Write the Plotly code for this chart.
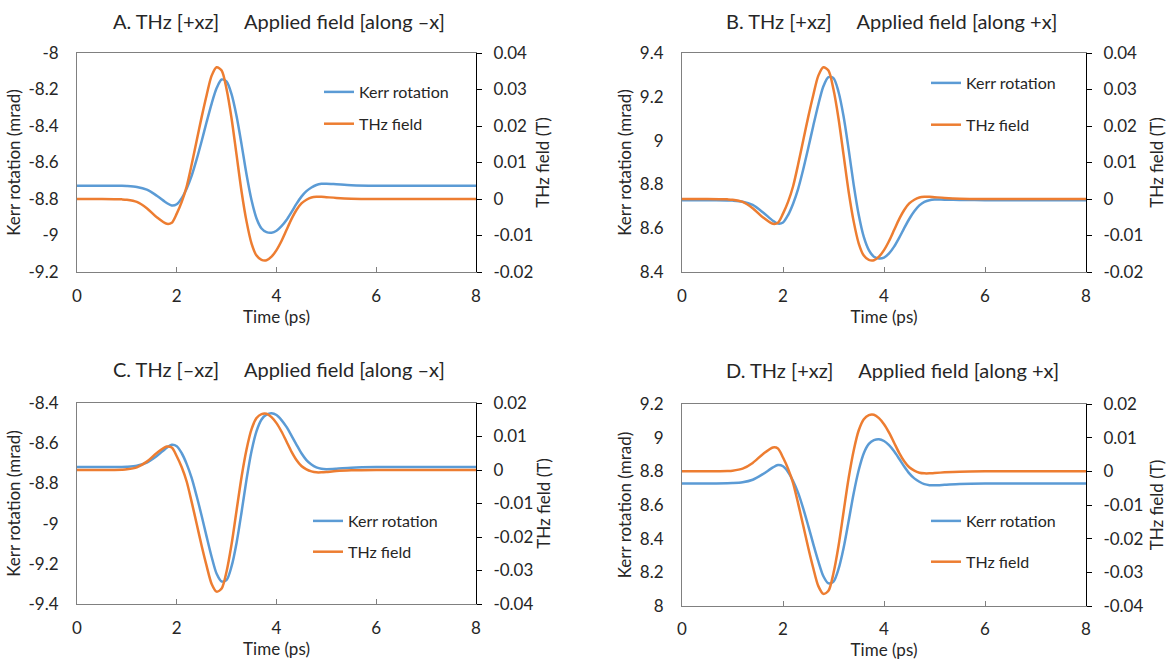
import plotly.graph_objects as go

# ---------------- data ----------------
time_ps = [0, 0.5, 0.9, 1.0, 1.2, 1.4, 1.6, 1.8, 1.9, 2.0, 2.1, 2.2, 2.3, 2.4, 2.5,
           2.6, 2.7, 2.8, 2.9, 3.0, 3.1, 3.2, 3.3, 3.4, 3.5, 3.6, 3.7, 3.8, 3.9, 4.0,
           4.1, 4.2, 4.3, 4.4, 4.5, 4.6, 4.7, 4.8, 4.9, 5.0, 5.2, 5.5, 6.0, 7.0, 8.0]

kerr_A = [-8.727, -8.727, -8.728, -8.729, -8.734, -8.749, -8.782, -8.822, -8.836, -8.829,
          -8.795, -8.742, -8.672, -8.582, -8.482, -8.377, -8.277, -8.192, -8.145, -8.157,
          -8.227, -8.347, -8.502, -8.667, -8.807, -8.907, -8.962, -8.982, -8.985, -8.974,
          -8.949, -8.915, -8.872, -8.827, -8.787, -8.757, -8.737, -8.723, -8.717, -8.716,
          -8.719, -8.724, -8.727, -8.727, -8.727]
thz_A = [0, 0, -0.0001, -0.0002, -0.0008, -0.0025, -0.0050, -0.0068, -0.0065, -0.0040,
         -0.0008, 0.0035, 0.0095, 0.0160, 0.0225, 0.0285, 0.0338, 0.0361, 0.0352, 0.0300,
         0.0220, 0.0120, 0.0020, -0.0062, -0.0122, -0.0155, -0.0167, -0.0168, -0.0158, -0.0140,
         -0.0115, -0.0085, -0.0055, -0.0030, -0.0012, -0.0002, 0.0004, 0.0006, 0.0006, 0.0005,
         0.0003, 0.0001, 0, 0, 0]

kerr_B = [8.728, 8.728, 8.727, 8.726, 8.721, 8.706, 8.673, 8.634, 8.621, 8.626,
          8.660, 8.712, 8.780, 8.868, 8.966, 9.068, 9.165, 9.248, 9.290, 9.285,
          9.222, 9.110, 8.960, 8.798, 8.660, 8.560, 8.500, 8.470, 8.462, 8.466,
          8.485, 8.516, 8.556, 8.600, 8.642, 8.677, 8.704, 8.720, 8.728, 8.731,
          8.730, 8.729, 8.728, 8.728, 8.728]
thz_B = [0, 0, -0.0001, -0.0002, -0.0008, -0.0025, -0.0050, -0.0068, -0.0065, -0.0040,
         -0.0008, 0.0035, 0.0095, 0.0160, 0.0225, 0.0285, 0.0338, 0.0361, 0.0352, 0.0300,
         0.0220, 0.0120, 0.0020, -0.0062, -0.0122, -0.0155, -0.0167, -0.0168, -0.0158, -0.0140,
         -0.0115, -0.0085, -0.0055, -0.0030, -0.0012, -0.0002, 0.0004, 0.0006, 0.0006, 0.0005,
         0.0003, 0.0001, 0, 0, 0]

kerr_C = [-8.719, -8.719, -8.718, -8.717, -8.712, -8.697, -8.664, -8.622, -8.608, -8.615,
          -8.650, -8.704, -8.774, -8.864, -8.962, -9.066, -9.166, -9.250, -9.288, -9.280,
          -9.212, -9.095, -8.942, -8.779, -8.639, -8.540, -8.482, -8.458, -8.451, -8.460,
          -8.485, -8.519, -8.562, -8.607, -8.650, -8.684, -8.706, -8.720, -8.727, -8.729,
          -8.727, -8.722, -8.719, -8.719, -8.719]
thz_C = [0, 0, 0.0001, 0.0002, 0.0008, 0.0025, 0.0051, 0.0070, 0.0067, 0.0041,
         0.0008, -0.0035, -0.0096, -0.0161, -0.0227, -0.0287, -0.0340, -0.0363, -0.0354, -0.0302,
         -0.0221, -0.0120, -0.0020, 0.0062, 0.0122, 0.0155, 0.0167, 0.0168, 0.0158, 0.0140,
         0.0115, 0.0085, 0.0055, 0.0030, 0.0012, 0.0002, -0.0004, -0.0007, -0.0007, -0.0006,
         -0.0003, -0.0001, 0, 0, 0]

kerr_D = [8.728, 8.728, 8.729, 8.730, 8.735, 8.750, 8.783, 8.823, 8.837, 8.830,
          8.796, 8.743, 8.672, 8.580, 8.476, 8.368, 8.265, 8.177, 8.135, 8.145,
          8.220, 8.345, 8.505, 8.670, 8.808, 8.908, 8.963, 8.985, 8.991, 8.980,
          8.955, 8.919, 8.875, 8.829, 8.788, 8.758, 8.738, 8.724, 8.718, 8.717,
          8.720, 8.725, 8.728, 8.728, 8.728]
thz_D = [0, 0, 0.0001, 0.0002, 0.0008, 0.0025, 0.0051, 0.0071, 0.0068, 0.0041,
         0.0008, -0.0035, -0.0096, -0.0161, -0.0227, -0.0288, -0.0341, -0.0364, -0.0355, -0.0302,
         -0.0221, -0.0120, -0.0020, 0.0062, 0.0122, 0.0155, 0.0167, 0.0168, 0.0158, 0.0140,
         0.0115, 0.0085, 0.0055, 0.0030, 0.0012, 0.0002, -0.0004, -0.0006, -0.0006, -0.0005,
         -0.0003, -0.0001, 0, 0, 0]

GAP = "\u00a0" * 5
panel_titles = [
    "A. THz [+xz]" + GAP + "Applied field [along \u2013x]",
    "B. THz [+xz]" + GAP + "Applied field [along +x]",
    "C. THz [\u2013xz]" + GAP + "Applied field [along \u2013x]",
    "D. THz [+xz]" + GAP + "Applied field [along +x]",
]

x_ticks = [0, 2, 4, 6, 8]
left_ticks_A = [-9.2, -9.0, -8.8, -8.6, -8.4, -8.2, -8.0]
left_text_A = ["-9.2", "-9", "-8.8", "-8.6", "-8.4", "-8.2", "-8"]
left_ticks_B = [8.4, 8.6, 8.8, 9.0, 9.2, 9.4]
left_text_B = ["8.4", "8.6", "8.8", "9", "9.2", "9.4"]
left_ticks_C = [-9.4, -9.2, -9.0, -8.8, -8.6, -8.4]
left_text_C = ["-9.4", "-9.2", "-9", "-8.8", "-8.6", "-8.4"]
left_ticks_D = [8.0, 8.2, 8.4, 8.6, 8.8, 9.0, 9.2]
left_text_D = ["8", "8.2", "8.4", "8.6", "8.8", "9", "9.2"]
right_ticks_top = [-0.02, -0.01, 0, 0.01, 0.02, 0.03, 0.04]
right_text_top = ["-0.02", "-0.01", "0", "0.01", "0.02", "0.03", "0.04"]
right_ticks_bot = [-0.04, -0.03, -0.02, -0.01, 0, 0.01, 0.02]
right_text_bot = ["-0.04", "-0.03", "-0.02", "-0.01", "0", "0.01", "0.02"]

# ---------------- styling ----------------
W, H = 1167, 661
BLUE = "#5B9BD5"
ORANGE = "#ED7D31"
TXT = "#262626"
FONT = "Lato"

def px_x(a, b):
    return [a / W, b / W]

def px_y(top, bottom):
    return [1 - bottom / H, 1 - top / H]

panels = [
    dict(kerr=kerr_A, thz=thz_A, xd=px_x(77, 476), yd=px_y(53, 272),
         yl=[-9.2, -8.0], lt=left_ticks_A, ltt=left_text_A,
         yr=[-0.02, 0.04], rt=right_ticks_top, rtt=right_text_top,
         leg=(319, 75, 8), title=(279, 21), rstand=4, xstand=2, xlab=9),
    dict(kerr=kerr_B, thz=thz_B, xd=px_x(682, 1086), yd=px_y(53, 272),
         yl=[8.4, 9.4], lt=left_ticks_B, ltt=left_text_B,
         yr=[-0.02, 0.04], rt=right_ticks_top, rtt=right_text_top,
         leg=(926, 66, 18), title=(891, 21), rstand=10, xstand=2, xlab=9),
    dict(kerr=kerr_C, thz=thz_C, xd=px_x(77, 476), yd=px_y(403, 604),
         yl=[-9.4, -8.4], lt=left_ticks_C, ltt=left_text_C,
         yr=[-0.04, 0.02], rt=right_ticks_bot, rtt=right_text_bot,
         leg=(308, 504, 7), title=(279, 369), rstand=4, xstand=4, xlab=9),
    dict(kerr=kerr_D, thz=thz_D, xd=px_x(682, 1086), yd=px_y(404, 606),
         yl=[8.0, 9.2], lt=left_ticks_D, ltt=left_text_D,
         yr=[-0.04, 0.02], rt=right_ticks_bot, rtt=right_text_bot,
         leg=(926, 504, 17), title=(892, 370), rstand=10, xstand=4, xlab=8),
]

fig = go.Figure()
layout = dict(
    width=W, height=H,
    margin=dict(l=0, r=0, t=0, b=0, autoexpand=False),
    paper_bgcolor="white", plot_bgcolor="white",
    font=dict(family=FONT, size=17, color=TXT),
    annotations=[],
)

for i, p in enumerate(panels):
    n = i + 1
    xa = "x" if n == 1 else f"x{n}"
    ya = "y" if n == 1 else f"y{2 * n - 1}"
    yb = f"y{2 * n}"
    leg = "legend" if n == 1 else f"legend{n}"

    fig.add_trace(go.Scatter(
        x=time_ps, y=p["kerr"], xaxis=xa, yaxis=ya, mode="lines",
        name="Kerr rotation", legend=leg, legendgroup=f"k{n}",
        line=dict(color=BLUE, width=2.5, shape="spline", smoothing=0.8)))
    fig.add_trace(go.Scatter(
        x=time_ps, y=p["thz"], xaxis=xa, yaxis=yb, mode="lines",
        name="THz field", legend=leg, legendgroup=f"t{n}",
        line=dict(color=ORANGE, width=2.5, shape="spline", smoothing=0.8)))

    xkey = "xaxis" if n == 1 else f"xaxis{n}"
    ykey = "yaxis" if n == 1 else f"yaxis{2 * n - 1}"
    y2key = f"yaxis{2 * n}"

    layout[xkey] = dict(
        domain=p["xd"], anchor=ya, range=[0, 8], tickvals=x_ticks,
        ticks="inside", ticklen=5, tickcolor="#808080", tickwidth=1,
        showline=True, linecolor="#808080", linewidth=1, mirror=True,
        showgrid=False, zeroline=False, ticklabelstandoff=p["xlab"],
        tickfont=dict(size=17, color=TXT),
        title=dict(text="Time (ps)", font=dict(size=17, color=TXT), standoff=p["xstand"]),
    )
    layout[ykey] = dict(
        domain=p["yd"], anchor=xa, range=p["yl"], tickvals=p["lt"], ticktext=p["ltt"],
        ticks="", showline=True, linecolor="#808080", linewidth=1,
        showgrid=False, zeroline=False, ticklabelstandoff=14,
        tickfont=dict(size=17, color=TXT),
        title=dict(text="Kerr rotation (mrad)", font=dict(size=17, color=TXT), standoff=3),
    )
    layout[y2key] = dict(
        overlaying=ya, side="right", anchor=xa, range=p["yr"],
        tickvals=p["rt"], ticktext=p["rtt"],
        ticks="outside", ticklen=5, tickcolor="#000000", tickwidth=1,
        showline=True, linecolor="#000000", linewidth=1,
        showgrid=False, zeroline=False, ticklabelstandoff=8,
        tickfont=dict(size=17, color=TXT),
        title=dict(text="THz field (T)", font=dict(size=17, color=TXT), standoff=p["rstand"]),
    )

    lx, ly, gap = p["leg"]
    layout[leg] = dict(
        x=lx / W, y=1 - ly / H, xanchor="left", yanchor="top",
        bgcolor="rgba(0,0,0,0)", font=dict(size=16, color=TXT),
        tracegroupgap=gap, itemwidth=30,
    )

    tx, ty = p["title"]
    layout["annotations"].append(dict(
        text=panel_titles[i], x=tx / W, y=1 - ty / H, xref="paper", yref="paper",
        xanchor="center", yanchor="middle", showarrow=False,
        font=dict(size=20, color=TXT, family=FONT)))

fig.update_layout(**layout)
fig.write_html("out.html")
